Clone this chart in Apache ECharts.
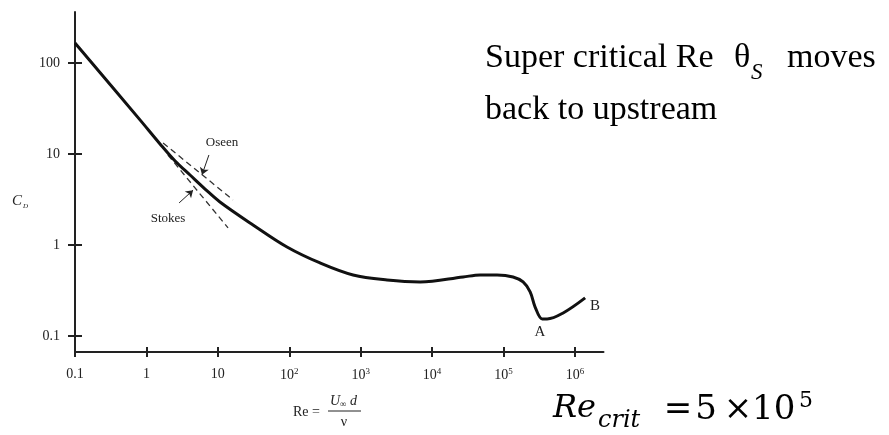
<!DOCTYPE html>
<html><head><meta charset="utf-8">
<script src="https://cdn.jsdelivr.net/npm/echarts@6/dist/echarts.min.js"></script>
<style>html,body{margin:0;padding:0;background:#fff}#c{width:889px;height:435px}</style>
</head><body><div id="c"></div>
<script>
// Drag curve (sphere)
const reValues = [0.1, 0.813, 1.55, 2.52, 4.08, 6.62, 10.7, 31.1, 93, 270, 783, 2344, 6795, 27200, 47000, 81300, 136000, 188000, 236000, 277000, 348000, 408000, 684000, 1390000];
const cdValues = [166, 23.7, 12.9, 8.37, 5.87, 4.12, 2.97, 1.66, 0.95, 0.634, 0.468, 0.412, 0.392, 0.445, 0.468, 0.468, 0.445, 0.392, 0.305, 0.208, 0.154, 0.154, 0.179, 0.262];
// Oseen and Stokes asymptotes (dashed)
const oseenRe = [1.71, 16.3];
const oseenCd = [13.2, 3.13];
const stokesRe = [2.0, 13.9];
const stokesCd = [9.75, 1.54];
// arrows
const oseenArrow = [[7.5, 9.75], [6.0, 5.9]];
const stokesArrow = [[2.87, 2.9], [4.5, 4.0]];
// ticks
const xTicks = [0.1, 1, 10, 100, 1000, 10000, 100000, 1000000];
const xTickLabels = ['0.1', '1', '10', '10{s|2}', '10{s|3}', '10{s|4}', '10{s|5}', '10{s|6}'];
const yTicks = [0.1, 1, 10, 100];
const yTickLabels = ['0.1', '1', '10', '100'];

const SERIF = '"Liberation Serif", "Times New Roman", serif';
const MATH = '"DejaVu Serif", serif';
const zip = (a, b) => a.map((v, i) => [v, b[i]]);
const xMin = 0.1, xMax = Math.pow(10, 6.4);
const yMin = Math.pow(10, -1.176), yMax = Math.pow(10, 2.56);

const chart = echarts.init(document.getElementById('c'));
const baseX = {
  type: 'log', logBase: 10, min: xMin, max: xMax, position: 'bottom',
  splitLine: { show: false }, minorTick: { show: false }
};
const baseY = {
  type: 'log', logBase: 10, min: yMin, max: yMax, position: 'left',
  splitLine: { show: false }, minorTick: { show: false }
};
chart.setOption({
  animation: false,
  backgroundColor: '#fff',
  grid: { left: 75, right: 285.5, top: 12, bottom: 83, containLabel: false },
  xAxis: [
    Object.assign({}, baseX, {
      axisLine: { show: true, lineStyle: { color: '#222', width: 2 } },
      axisTick: { show: true, inside: false, length: 5, customValues: xTicks, lineStyle: { color: '#222', width: 2 } },
      axisLabel: {
        show: true, margin: 15, customValues: xTicks, color: '#222', fontFamily: SERIF, fontSize: 14,
        formatter: function (v) { const i = xTicks.findIndex(t => Math.abs(Math.log10(t) - Math.log10(v)) < 1e-6); return i >= 0 ? xTickLabels[i] : ''; },
        rich: { s: { fontSize: 9, fontFamily: SERIF, color: '#222', verticalAlign: 'top', padding: [0, 0, 8, 0] } }
      }
    }),
    Object.assign({}, baseX, {
      axisLine: { show: false },
      axisTick: { show: true, inside: true, length: 5, customValues: xTicks, lineStyle: { color: '#222', width: 2 } },
      axisLabel: { show: false }
    })
  ],
  yAxis: [
    Object.assign({}, baseY, {
      axisLine: { show: true, lineStyle: { color: '#222', width: 2 } },
      axisTick: { show: true, inside: false, length: 7, customValues: yTicks, lineStyle: { color: '#222', width: 2 } },
      axisLabel: {
        show: true, margin: 15, customValues: yTicks, color: '#222', fontFamily: SERIF, fontSize: 14,
        formatter: function (v) { const i = yTicks.findIndex(t => Math.abs(Math.log10(t) - Math.log10(v)) < 1e-6); return i >= 0 ? yTickLabels[i] : ''; }
      }
    }),
    Object.assign({}, baseY, {
      axisLine: { show: false },
      axisTick: { show: true, inside: true, length: 7, customValues: yTicks, lineStyle: { color: '#222', width: 2 } },
      axisLabel: { show: false }
    })
  ],
  series: [
    {
      type: 'line', data: zip(reValues, cdValues), showSymbol: false, smooth: 0.35,
      lineStyle: { color: '#111', width: 3 }, z: 5
    },
    {
      type: 'line', data: zip(oseenRe, oseenCd), showSymbol: false,
      lineStyle: { color: '#333', width: 1.3, type: [6, 4] },
      markLine: {
        silent: true, symbol: ['none', 'arrow'], symbolSize: 7, label: { show: false },
        lineStyle: { color: '#222', width: 1, type: 'solid' },
        data: [
          [{ coord: oseenArrow[0] }, { coord: oseenArrow[1] }],
          [{ coord: stokesArrow[0] }, { coord: stokesArrow[1] }]
        ]
      }
    },
    {
      type: 'line', data: zip(stokesRe, stokesCd), showSymbol: false,
      lineStyle: { color: '#333', width: 1.3, type: [6, 4] }
    }
  ],
  graphic: [
    { type: 'text', x: 12, y: 201, style: { text: 'C', font: 'italic 15px ' + SERIF, fill: '#222', verticalAlign: 'middle' } },
    { type: 'text', x: 23, y: 206, style: { text: 'D', font: 'italic 7px ' + SERIF, fill: '#222', verticalAlign: 'middle' } },
    { type: 'text', x: 222, y: 143, style: { text: 'Oseen', font: '13px ' + SERIF, fill: '#222', align: 'center', verticalAlign: 'middle' } },
    { type: 'text', x: 168, y: 219, style: { text: 'Stokes', font: '13px ' + SERIF, fill: '#222', align: 'center', verticalAlign: 'middle' } },
    { type: 'text', x: 540, y: 332, style: { text: 'A', font: '15px ' + SERIF, fill: '#222', align: 'center', verticalAlign: 'middle' } },
    { type: 'text', x: 595, y: 306, style: { text: 'B', font: '15px ' + SERIF, fill: '#222', align: 'center', verticalAlign: 'middle' } },
    // Re = U∞d / ν
    { type: 'text', x: 293, y: 412, style: { text: 'Re =', font: '14px ' + SERIF, fill: '#222', verticalAlign: 'middle' } },
    { type: 'text', x: 330, y: 401, style: { text: 'U', font: 'italic 14px ' + SERIF, fill: '#222', verticalAlign: 'middle' } },
    { type: 'text', x: 340, y: 405, style: { text: '∞', font: '9px ' + SERIF, fill: '#222', verticalAlign: 'middle' } },
    { type: 'text', x: 350, y: 401, style: { text: 'd', font: 'italic 14px ' + SERIF, fill: '#222', verticalAlign: 'middle' } },
    { type: 'line', shape: { x1: 328, y1: 411, x2: 361, y2: 411 }, style: { stroke: '#222', lineWidth: 1 } },
    { type: 'text', x: 344, y: 422, style: { text: 'ν', font: '14px ' + SERIF, fill: '#222', align: 'center', verticalAlign: 'middle' } },
    // headline
    { type: 'text', x: 485, y: 58, style: { text: 'Super critical Re', font: '34px ' + SERIF, fill: '#000', verticalAlign: 'middle' } },
    { type: 'text', x: 734, y: 58, style: { text: 'θ', font: '34px ' + SERIF, fill: '#000', verticalAlign: 'middle' } },
    { type: 'text', x: 751, y: 73, style: { text: 'S', font: 'italic 23px ' + SERIF, fill: '#000', verticalAlign: 'middle' } },
    { type: 'text', x: 787, y: 58, style: { text: 'moves', font: '34px ' + SERIF, fill: '#000', verticalAlign: 'middle' } },
    { type: 'text', x: 485, y: 110, style: { text: 'back to upstream', font: '34px ' + SERIF, fill: '#000', verticalAlign: 'middle' } },
    // Re_crit = 5 × 10^5
    { type: 'text', x: 553, y: 409, style: { text: 'Re', font: 'italic 32px ' + MATH, fill: '#000', verticalAlign: 'middle' } },
    { type: 'text', x: 598, y: 421, style: { text: 'crit', font: 'italic 24px ' + MATH, fill: '#000', verticalAlign: 'middle' } },
    { type: 'text', x: 678, y: 410, style: { text: '=', font: '34px ' + MATH, fill: '#000', align: 'center', verticalAlign: 'middle' } },
    { type: 'text', x: 706, y: 410, style: { text: '5', font: '34px ' + MATH, fill: '#000', align: 'center', verticalAlign: 'middle' } },
    { type: 'text', x: 738, y: 410, style: { text: '×', font: '34px ' + MATH, fill: '#000', align: 'center', verticalAlign: 'middle' } },
    { type: 'text', x: 752, y: 410, style: { text: '10', font: '34px ' + MATH, fill: '#000', verticalAlign: 'middle' } },
    { type: 'text', x: 799, y: 401, style: { text: '5', font: '22px ' + MATH, fill: '#000', verticalAlign: 'middle' } }
  ]
});
</script></body></html>
